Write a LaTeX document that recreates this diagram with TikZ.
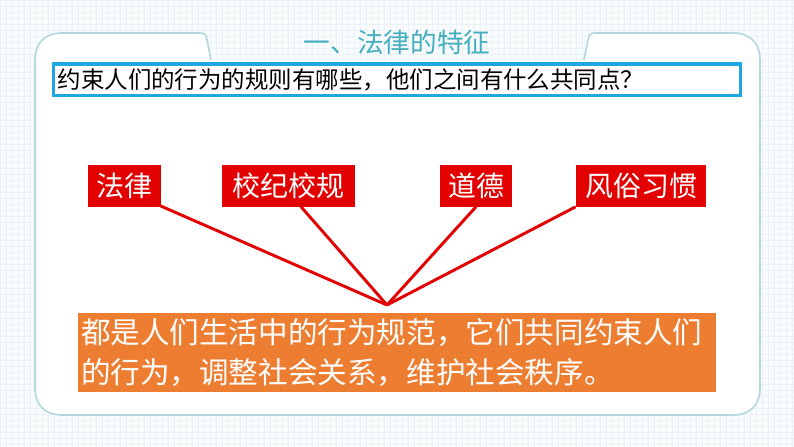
\documentclass[tikz,border=0pt]{standalone}
\usepackage{fontspec}
\setmainfont{Noto Sans CJK SC}
\definecolor{tagred}{HTML}{E30000}
\definecolor{sumorange}{HTML}{ED7D31}
\definecolor{qblue}{HTML}{1EA7E1}
\definecolor{titleteal}{HTML}{45AFC0}
\definecolor{panelline}{HTML}{B3D7DE}
\definecolor{gridline}{HTML}{EAF3F6}
\begin{document}
\begin{tikzpicture}[x=0.75pt,y=0.75pt,yscale=-1,xscale=1,
  tag/.style={fill=tagred,text=white,inner sep=0pt,minimum height=31.5pt,font=\fontsize{21}{21}\selectfont},
  link/.style={draw=tagred,line width=2.2pt}]
	\useasboundingbox (0,0) rectangle (794,447);
	\fill[white!70!gridline] (0,0) rectangle (794,447);
	\draw[gridline,line width=0.3pt,step=6] (0,0) grid (794,447);
	% panel
	\fill[white] (211,60) -- (207,40) .. controls (206,35) and (205,33) .. (200,33) -- (62,33) .. controls (45,33) and (35,43) .. (35,60) -- (35,388) .. controls (35,405) and (45,415) .. (62,415) -- (733,415) .. controls (750,415) and (760,405) .. (760,388) -- (760,60) .. controls (760,43) and (750,33) .. (733,33) -- (595,33) .. controls (590,33) and (589,35) .. (588,40) -- (584,60) -- cycle;
	\draw[panelline,line width=1.2pt] (211,60) -- (207,40) .. controls (206,35) and (205,33) .. (200,33) -- (62,33) .. controls (45,33) and (35,43) .. (35,60) -- (35,388) .. controls (35,405) and (45,415) .. (62,415) -- (733,415) .. controls (750,415) and (760,405) .. (760,388) -- (760,60) .. controls (760,43) and (750,33) .. (733,33) -- (595,33) .. controls (590,33) and (589,35) .. (588,40) -- (584,60);

	\draw (397,42) node [text=titleteal,font=\fontsize{20}{20}\selectfont] (title) {一、法律的特征};
	\draw (397,79.5) node [draw=qblue,fill=white,line width=2.6pt,minimum width=515pt,minimum height=23.6pt,inner xsep=3pt,inner ysep=0pt,text width=509pt,align=left,font=\fontsize{17.6}{17.6}\selectfont] (question) {约束人们的行为的规则有哪些，他们之间有什么共同点？};

	\draw (124,185.5) node [tag,minimum width=54.75pt] (law) {法律};
	\draw (288.5,185.5) node [tag,minimum width=99.75pt] (rules) {校纪校规};
	\draw (476,185.5) node [tag,minimum width=54pt] (moral) {道德};
	\draw (641,185.5) node [tag,minimum width=97.5pt] (custom) {风俗习惯};

	\coordinate (apex) at (387,305);
	\draw[link] ([xshift=14.25pt,yshift=-6.4pt]law.south) -- (apex);
	\draw[link] ([xshift=9.4pt]rules.south) -- (apex);
	\draw[link] (moral.south) -- (apex);
	\draw[link] (custom.south west) -- (apex);

	\draw (397,352.5) node [fill=sumorange,text=white,minimum width=478.5pt,minimum height=59.25pt,inner xsep=2.25pt,text width=474pt,align=left,font=\fontsize{22.2}{29.5}\selectfont] (summary) {都是人们生活中的行为规范，它们共同约束人们\\的行为，调整社会关系，维护社会秩序。};
\end{tikzpicture}
\end{document}
